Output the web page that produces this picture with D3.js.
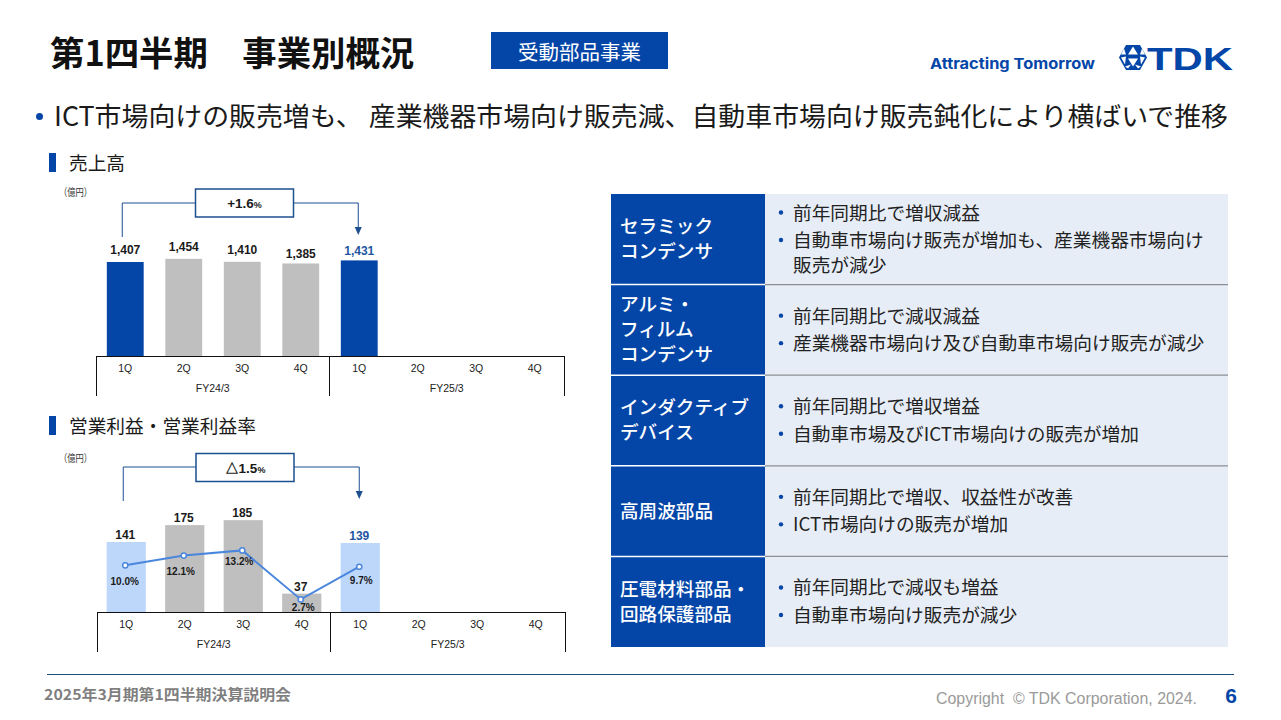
<!DOCTYPE html>
<html lang="ja">
<head>
<meta charset="utf-8">
<title>第1四半期 事業別概況</title>
<script src="https://cdn.jsdelivr.net/npm/d3@7"></script>
<style>
  html, body { margin: 0; padding: 0; background: #fff; }
  svg { display: block; }
  text { font-family: 'Noto Sans CJK JP', 'Noto Sans', sans-serif; }
  .latin text, text.latin { font-family: 'Liberation Sans', Arial, sans-serif; }
</style>
</head>
<body>
<div id="slide"></div>
<script>
/* =========================================================
   DATA
========================================================= */
const quarters = ['1Q', '2Q', '3Q', '4Q'];
const fiscalYears = ['FY24/3', 'FY25/3'];

const salesValues = [1407, 1454, 1410, 1385, 1431];
const profitValues = [141, 175, 185, 37, 139];
const marginValues = [10.0, 12.1, 13.2, 2.7, 9.7];

const salesChange = '+1.6';
const profitChange = '△1.5';

const segmentNames = [
  ['セラミック', 'コンデンサ'],
  ['アルミ・', 'フィルム', 'コンデンサ'],
  ['インダクティブ', 'デバイス'],
  ['高周波部品'],
  ['圧電材料部品・', '回路保護部品'],
];
const segmentNotes = [
  [['前年同期比で増収減益'], ['自動車市場向け販売が増加も、産業機器市場向け', '販売が減少']],
  [['前年同期比で減収減益'], ['産業機器市場向け及び自動車市場向け販売が減少']],
  [['前年同期比で増収増益'], ['自動車市場及びICT市場向けの販売が増加']],
  [['前年同期比で増収、収益性が改善'], ['ICT市場向けの販売が増加']],
  [['前年同期比で減収も増益'], ['自動車市場向け販売が減少']],
];

const titleText = '第1四半期　事業別概況';
const badgeText = '受動部品事業';
const leadText = 'ICT市場向けの販売増も、 産業機器市場向け販売減、自動車市場向け販売鈍化により横ばいで推移';

/* =========================================================
   COLORS
========================================================= */
const BLUE = '#0446a8';
const LABEL_BLUE = '#23559f';
const GREY_BAR = '#bfbfbf';
const LIGHT_BAR = '#bdd7fb';
const LINE_BLUE = '#4a86dc';
const FRAME_BLUE = '#1b4f8f';
const PANEL = '#e7edf6';

const periods = fiscalYears.flatMap((fy) => quarters.map((q) => fy + ' ' + q));

const svg = d3.select('#slide').append('svg').attr('width', 1281).attr('height', 720);

function addText(parent, x, y, str, size, opts = {}) {
  return parent
    .append('text')
    .attr('class', opts.latin ? 'latin' : null)
    .attr('x', x)
    .attr('y', y)
    .attr('font-size', size)
    .attr('font-weight', opts.weight || 400)
    .attr('fill', opts.fill || '#1a1a1a')
    .attr('text-anchor', opts.anchor || 'start')
    .text(str);
}

// the source slide squeezes its Arial numbers a bit
function condense(selection, ratio) {
  selection.each(function () {
    d3.select(this)
      .attr('textLength', this.getComputedTextLength() * ratio)
      .attr('lengthAdjust', 'spacingAndGlyphs');
  });
}

/* =========================================================
   HEADER
========================================================= */
addText(svg, 50, 66, titleText, 34.4, { weight: 700, fill: '#111' });

svg.append('rect').attr('x', 491).attr('y', 32).attr('width', 177).attr('height', 37).attr('fill', BLUE);
addText(svg, 579.5, 60, badgeText, 20.5, { fill: '#fff', anchor: 'middle' });

addText(svg, 930, 69, 'Attracting Tomorrow', 15, { weight: 700, fill: BLUE })
  .style('font-family', 'Inter')
  .attr('textLength', 165)
  .attr('lengthAdjust', 'spacingAndGlyphs');

// logo mark
const mark = svg.append('g').attr('transform', 'translate(1133,57.5)');
mark
  .append('polygon')
  .attr('points', '-7,-12.5 7,-12.5 14,0 7,12.5 -7,12.5 -14,0')
  .attr('fill', BLUE);
[
  '0,-11 -5,-3 5,-3',
  '-7,-1 -12,0 -8,7',
  '7,-1 12,0 8,7',
  '-5,1 5,1 0,9',
  '-9,-9 -7,-3 -12,-3',
  '9,-9 7,-3 12,-3',
  '-5,11 -2,7 -8,9',
  '5,11 2,7 8,9',
].forEach((p) => mark.append('polygon').attr('points', p).attr('fill', '#fff'));

addText(svg, 1147, 69.5, 'TDK', 32, { weight: 700, fill: BLUE, latin: true })
  .attr('textLength', 86)
  .attr('lengthAdjust', 'spacingAndGlyphs');

svg.append('circle').attr('cx', 39.5).attr('cy', 116.5).attr('r', 3.5).attr('fill', BLUE);
addText(svg, 54, 126, leadText, 26.4, { fill: '#1a1a1a' })
  .attr('textLength', 1174)
  .attr('lengthAdjust', 'spacingAndGlyphs');

/* =========================================================
   CHART PANELS
========================================================= */
function sectionTitle(y, label) {
  svg.append('rect').attr('x', 49).attr('y', y).attr('width', 7).attr('height', 19).attr('fill', BLUE);
  addText(svg, 69, y + 16.5, label, 18.7);
}

function drawFrame(left, right, baseline) {
  const x = d3.scaleBand().domain(periods).range([left, right]);
  const g = svg.append('g').attr('class', 'latin');

  const axis = d3
    .axisBottom(x)
    .tickSize(0)
    .tickPadding(9)
    .tickFormat((d) => d.split(' ')[1]);
  const axisG = g.append('g').attr('transform', `translate(0,${baseline})`).call(axis);
  axisG.select('.domain').remove();
  axisG.selectAll('text').attr('font-size', 10.5).attr('fill', '#222').attr('font-family', 'Liberation Sans');

  g.append('line')
    .attr('x1', left).attr('x2', right)
    .attr('y1', baseline).attr('y2', baseline)
    .attr('stroke', '#111').attr('stroke-width', 1)
    .attr('shape-rendering', 'crispEdges');

  const split = x(periods[quarters.length]) - 0.5;
  [left, split, right].forEach((px) => {
    g.append('line')
      .attr('x1', px).attr('x2', px)
      .attr('y1', baseline).attr('y2', baseline + 40)
      .attr('stroke', '#111').attr('stroke-width', 1)
      .attr('shape-rendering', 'crispEdges');
  });
  fiscalYears.forEach((fy, i) => {
    const cx = i === 0 ? (left + split) / 2 : (split + right) / 2;
    addText(g, cx, baseline + 36, fy, 10.5, { anchor: 'middle', fill: '#222', latin: true });
  });
  return x;
}

function drawCallout(x, top, lineY, startY, tipY, boxLeft, text) {
  const x0 = x(periods[0]) + x.bandwidth() / 2 - 3;
  const x1 = x(periods[quarters.length]) + x.bandwidth() / 2 - 1;
  const boxW = 98;
  const boxH = 28;

  const link = d3.line();
  svg.append('path')
    .attr('d', link([[x0, startY], [x0, lineY], [boxLeft, lineY]]))
    .attr('fill', 'none').attr('stroke', FRAME_BLUE).attr('stroke-width', 1);
  svg.append('path')
    .attr('d', link([[boxLeft + boxW, lineY], [x1, lineY], [x1, tipY - 7]]))
    .attr('fill', 'none').attr('stroke', FRAME_BLUE).attr('stroke-width', 1);
  svg.append('path')
    .attr('d', d3.line()([[x1 - 3.5, tipY - 8], [x1 + 3.5, tipY - 8], [x1, tipY]]) + 'Z')
    .attr('fill', FRAME_BLUE);

  svg.append('rect')
    .attr('x', boxLeft).attr('y', top)
    .attr('width', boxW).attr('height', boxH)
    .attr('fill', '#fff').attr('stroke', FRAME_BLUE).attr('stroke-width', 1.5);

  const t = addText(svg, boxLeft + boxW / 2, top + 19, text, 13.5, { weight: 700, anchor: 'middle', latin: true });
  t.append('tspan').attr('font-size', 9).text('%');
}

function unitLabel(y) {
  addText(svg, 59, y, '（億円）', 10.5, { fill: '#333' })
    .attr('textLength', 33)
    .attr('lengthAdjust', 'spacingAndGlyphs');
}

/* ---- 売上高 ---- */
sectionTitle(153, '売上高');
unitLabel(195.5);

const salesBaseline = 356;
const xSales = drawFrame(96, 564, salesBaseline);
const ySales = d3.scaleLinear().domain([0, 1407]).range([salesBaseline, 262]);
const salesInner = d3.scaleBand().domain(periods).range([96, 564]).paddingInner(0.37).paddingOuter(0.185);

svg.append('g')
  .selectAll('rect')
  .data(salesValues)
  .join('rect')
  .attr('x', (d, i) => salesInner(periods[i]))
  .attr('y', (d) => ySales(d))
  .attr('width', salesInner.bandwidth())
  .attr('height', (d) => salesBaseline - ySales(d))
  .attr('fill', (d, i) => (i === 0 || i === 4 ? BLUE : GREY_BAR));

// hand placed on the slide, so the gap over the bar differs
const salesGap = [8, 8, 8, 5.6, 5];
svg.append('g')
  .attr('class', 'latin')
  .selectAll('text')
  .data(salesValues)
  .join('text')
  .attr('x', (d, i) => salesInner(periods[i]) + salesInner.bandwidth() / 2)
  .attr('y', (d, i) => ySales(d) - salesGap[i])
  .attr('text-anchor', 'middle')
  .attr('font-size', 13.5)
  .attr('font-weight', 700)
  .attr('fill', (d, i) => (i === 4 ? LABEL_BLUE : '#1a1a1a'))
  .text((d) => d3.format(',')(d))
  .call(condense, 0.89);

drawCallout(xSales, 189, 203, 237, 235, 195.5, salesChange);

/* ---- 営業利益・営業利益率 ---- */
sectionTitle(416, '営業利益・営業利益率');
unitLabel(461.5);

const profitBaseline = 612;
const xProfit = drawFrame(97, 565, profitBaseline);
const yProfit = d3.scaleLinear().domain([0, 141]).range([profitBaseline, 542]);
const yMargin = d3.scaleLinear().domain([0, 13.2]).range([profitBaseline, 550.4]);
const profitInner = d3.scaleBand().domain(periods).range([97, 565]).paddingInner(0.33).paddingOuter(0.165);

svg.append('g')
  .selectAll('rect')
  .data(profitValues)
  .join('rect')
  .attr('x', (d, i) => profitInner(periods[i]))
  .attr('y', (d) => yProfit(d))
  .attr('width', profitInner.bandwidth())
  .attr('height', (d) => profitBaseline - yProfit(d))
  .attr('fill', (d, i) => (i === 0 || i === 4 ? LIGHT_BAR : GREY_BAR));

svg.append('g')
  .attr('class', 'latin')
  .selectAll('text')
  .data(profitValues)
  .join('text')
  .attr('x', (d, i) => profitInner(periods[i]) + profitInner.bandwidth() / 2 - 1)
  .attr('y', (d) => yProfit(d) - 3)
  .attr('text-anchor', 'middle')
  .attr('font-size', 13.5)
  .attr('font-weight', 700)
  .attr('fill', (d, i) => (i === 4 ? LABEL_BLUE : '#1a1a1a'))
  .text((d) => d)
  .call(condense, 0.89);

const marginX = (i) => xProfit(periods[i]) + xProfit.bandwidth() / 2 - 1;
const marginLine = d3
  .line()
  .x((d, i) => marginX(i))
  .y((d) => yMargin(d));

svg.append('path')
  .datum(marginValues)
  .attr('d', marginLine)
  .attr('fill', 'none')
  .attr('stroke', LINE_BLUE)
  .attr('stroke-width', 2);

svg.append('g')
  .selectAll('circle')
  .data(marginValues)
  .join('circle')
  .attr('cx', (d, i) => marginX(i))
  .attr('cy', (d) => yMargin(d))
  .attr('r', 2.6)
  .attr('fill', '#fff')
  .attr('stroke', LINE_BLUE)
  .attr('stroke-width', 1.5);

// label offsets below the points, the labels dodge the line
const marginDy = [20, 19, 15, 12, 17];
const marginDx = [-0.5, -3, -3, 2.5, 2];
svg.append('g')
  .attr('class', 'latin')
  .selectAll('text')
  .data(marginValues)
  .join('text')
  .attr('x', (d, i) => marginX(i) + marginDx[i])
  .attr('y', (d, i) => yMargin(d) + marginDy[i])
  .attr('text-anchor', 'middle')
  .attr('font-size', 11)
  .attr('font-weight', 700)
  .attr('fill', '#1a1a1a')
  .text((d) => d.toFixed(1) + '%')
  .call(condense, 0.91);

drawCallout(xProfit, 453.5, 467, 501, 499, 196, profitChange);

/* =========================================================
   SEGMENT TABLE
========================================================= */
const rowScale = d3
  .scaleBand()
  .domain(d3.range(segmentNames.length))
  .range([194, 647]);

const rows = svg
  .selectAll('g.row')
  .data(segmentNames)
  .join('g')
  .attr('class', 'row')
  .attr('transform', (d, i) => `translate(0,${rowScale(i)})`);

rows.append('rect')
  .attr('x', 611).attr('y', 0)
  .attr('width', 154).attr('height', rowScale.bandwidth())
  .attr('fill', BLUE);
rows.append('rect')
  .attr('x', 765).attr('y', 0)
  .attr('width', 463).attr('height', rowScale.bandwidth())
  .attr('fill', PANEL);
rows.filter((d, i) => i > 0)
  .append('line')
  .attr('x1', 611).attr('x2', 765)
  .attr('y1', 0).attr('y2', 0)
  .attr('stroke', '#fff').attr('stroke-width', 1.5);
rows.filter((d, i) => i > 0)
  .append('line')
  .attr('x1', 765).attr('x2', 1228)
  .attr('y1', 0).attr('y2', 0)
  .attr('stroke', '#8a8f96').attr('stroke-width', 1.2);

rows.each(function (names, i) {
  const row = d3.select(this);
  const mid = rowScale.bandwidth() / 2;

  names.forEach((line, k) => {
    addText(row, 620, mid + (k - (names.length - 1) / 2) * 25 + 6.5, line, 18.6, { weight: 500, fill: '#fff' });
  });

  // bullets sit 27.5px apart, wrapped lines 25px
  const notes = segmentNotes[i];
  const wrapped = d3.sum(notes, (n) => n.length - 1);
  let y = mid - (27.5 * (notes.length - 1) + 25 * wrapped) / 2;
  notes.forEach((note) => {
    row.append('circle').attr('cx', 781).attr('cy', y - 0.5).attr('r', 2.2).attr('fill', BLUE);
    note.forEach((line) => {
      addText(row, 793, y + 6.5, line, 18.7, { fill: '#222' });
      y += 25;
    });
    y += 2.5;
  });
});

/* =========================================================
   FOOTER
========================================================= */
svg.append('line')
  .attr('x1', 47).attr('x2', 1234)
  .attr('y1', 674.5).attr('y2', 674.5)
  .attr('stroke', '#1f4e79').attr('stroke-width', 1.2);

addText(svg, 44, 700, '2025年3月期第1四半期決算説明会', 14.5, { weight: 700, fill: '#7f7f7f' })
  .attr('textLength', 247)
  .attr('lengthAdjust', 'spacingAndGlyphs');
addText(svg, 936, 703.5, 'Copyright\u00a0\u00a0© TDK Corporation, 2024.', 16, { fill: '#9a9a9a', latin: true })
  .attr('textLength', 261)
  .attr('lengthAdjust', 'spacingAndGlyphs');
addText(svg, 1231, 703, '6', 21, { weight: 700, fill: BLUE, anchor: 'middle', latin: true });
</script>
</body>
</html>
